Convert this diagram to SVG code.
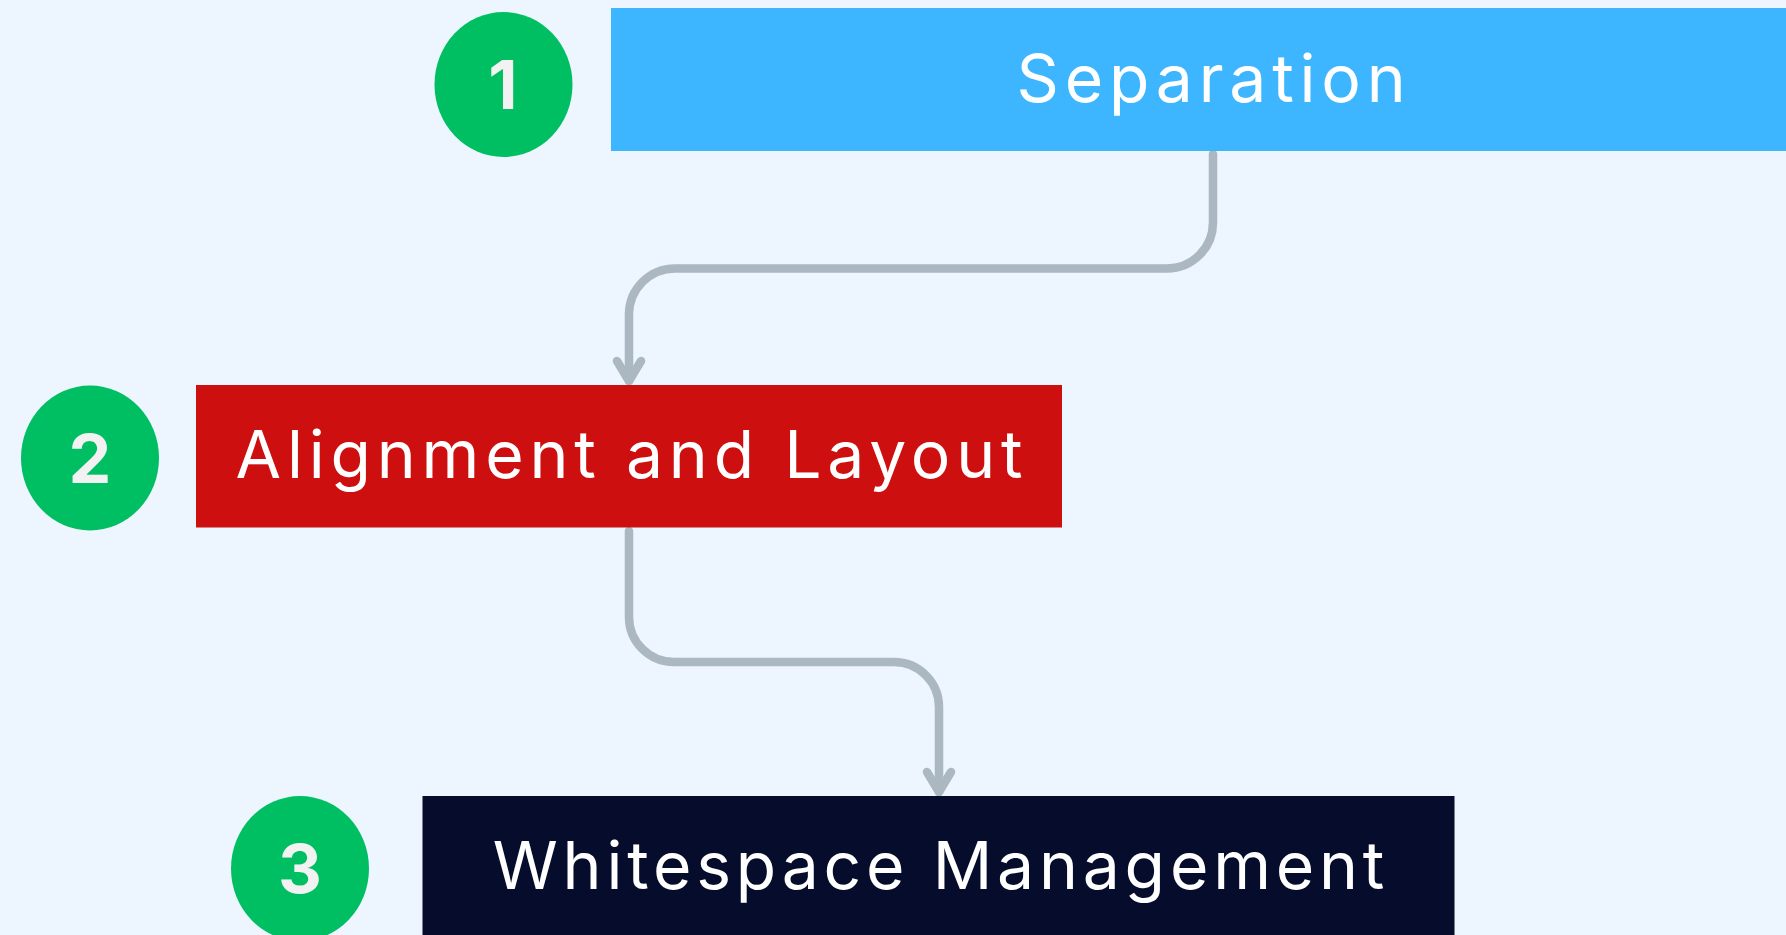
<svg xmlns="http://www.w3.org/2000/svg" width="1786" height="935" viewBox="0 0 1786 935">
  <defs>
    <style>
      .bg { fill: #EDF5FE; }
      .badge { fill: #00BF63; }
      .badge-num { font-family: Inter, "Liberation Sans", sans-serif; font-weight: 700; font-size: 68px; fill: #F2F2F2; text-anchor: middle; }
      .label { font-family: Inter, "Liberation Sans", sans-serif; font-weight: 400; font-size: 66px; fill: #FFFFFF; text-anchor: middle; letter-spacing: 5.8px; }
      .label.tight { letter-spacing: 4.8px; }
      .edge { fill: none; stroke: #ABB8C1; stroke-width: 8.5; stroke-linecap: round; stroke-linejoin: round; }
    </style>
    <!-- open chevron arrowhead, drawn pointing along +x -->
    <marker id="chevron" viewBox="-26 -18 30 36" markerWidth="30" markerHeight="36" refX="0" refY="0" orient="auto" markerUnits="userSpaceOnUse">
      <path d="M-20,-12 L0,0 L-20,12" fill="none" stroke="#ABB8C1" stroke-width="8.5" stroke-linecap="round" stroke-linejoin="round"/>
    </marker>
  </defs>

  <rect class="bg" x="0" y="0" width="1786" height="935"/>

  <!-- connectors -->
  <g id="connectors">
    <path class="edge" d="M1213,154 V222 A46,46 0 0 1 1167,268.5 H675 A46,46 0 0 0 629,314 V381" marker-end="url(#chevron)"/>
    <path class="edge" d="M629,531 V617 A45,45 0 0 0 674,662 H894 A45,45 0 0 1 939,707 V792" marker-end="url(#chevron)"/>
  </g>

  <!-- step 1 -->
  <g id="step-1">
    <ellipse class="badge" cx="503.5" cy="84.5" rx="69" ry="72.5"/>
    <text class="badge-num" x="503" y="109">1</text>
  </g>
  <g id="separation">
    <rect x="611" y="8" width="1200" height="143" fill="#3DB6FF"/>
    <text class="label" x="1214" y="102">Separation</text>
  </g>

  <!-- step 2 -->
  <g id="step-2">
    <ellipse class="badge" cx="90" cy="458" rx="69" ry="72.5"/>
    <text class="badge-num" x="90" y="483">2</text>
  </g>
  <g id="alignment-layout">
    <rect x="196" y="385" width="866" height="142.5" fill="#CD0F0F"/>
    <text class="label" x="632" y="478">Alignment and Layout</text>
  </g>

  <!-- step 3 -->
  <g id="step-3">
    <ellipse class="badge" cx="300" cy="868.5" rx="69" ry="72.5"/>
    <text class="badge-num" x="300" y="893">3</text>
  </g>
  <g id="whitespace-management">
    <rect x="422.5" y="796" width="1032" height="143" fill="#060C2B"/>
    <text class="label tight" x="941" y="889">Whitespace Management</text>
  </g>
</svg>
